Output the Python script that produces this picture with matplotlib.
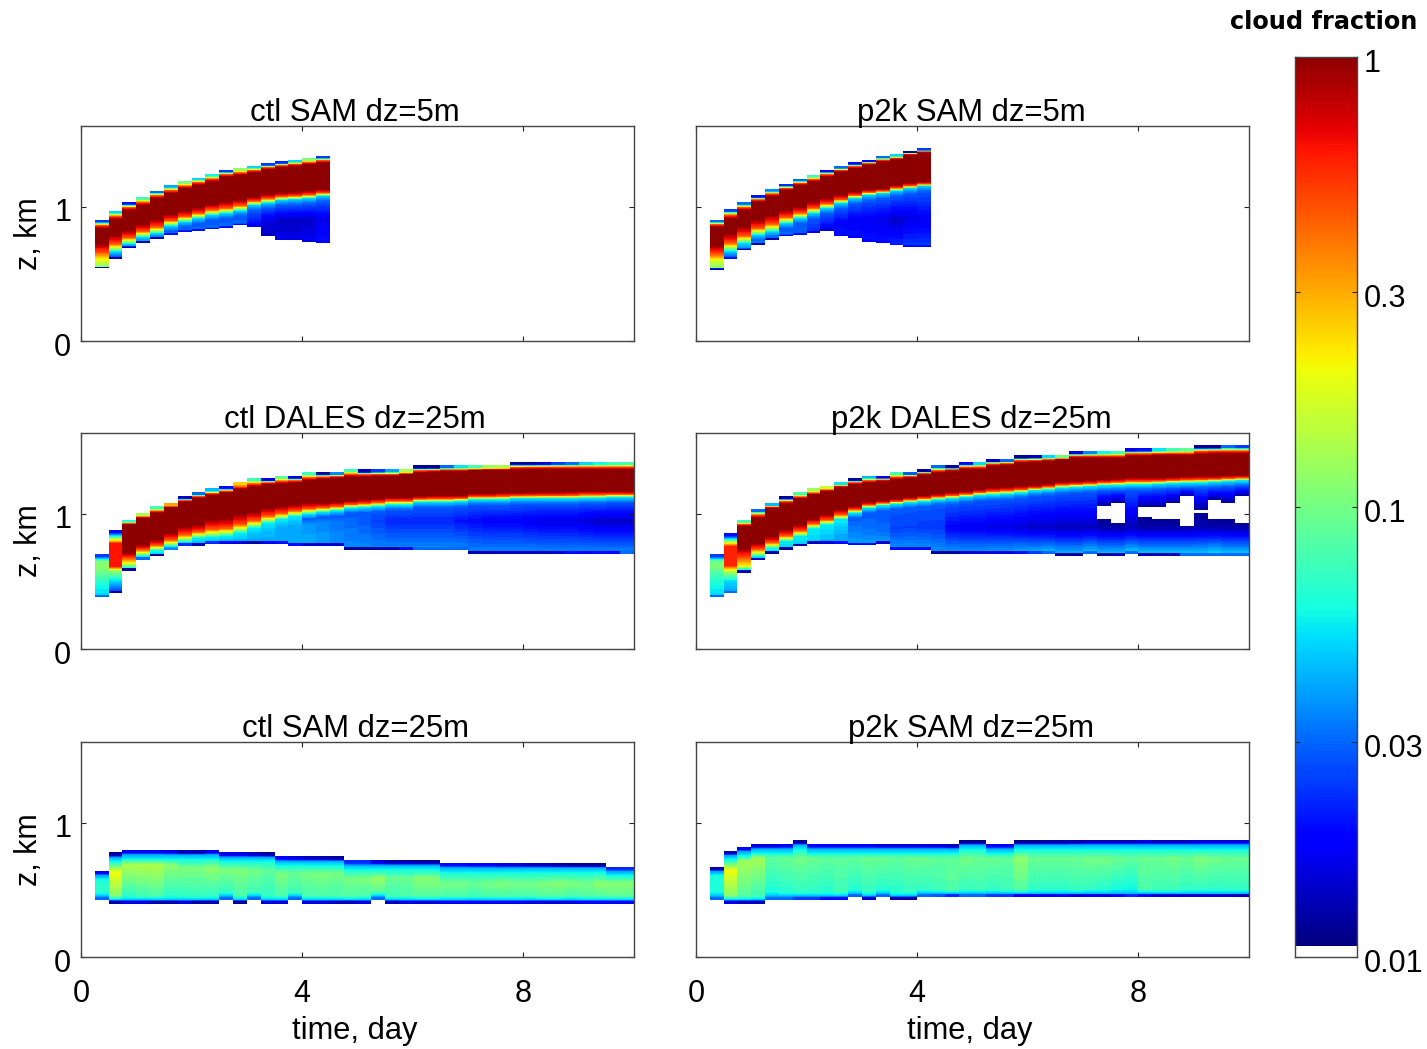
import numpy as np
import matplotlib
matplotlib.use('Agg')
import matplotlib.pyplot as plt
from matplotlib.transforms import ScaledTranslation

plt.rcParams['font.family'] = ['Liberation Sans', 'DejaVu Sans']

# time columns, day
time_edges = [0.25, 0.5, 0.75, 1.0, 1.25, 1.5, 1.75, 2.0, 2.25, 2.5, 2.75, 3.0, 3.25, 3.5,
              3.75, 4.0, 4.25, 4.5, 4.75, 5.0, 5.25, 5.5, 5.75, 6.0, 6.25, 6.5, 6.75, 7.0,
              7.25, 7.5, 7.75, 8.0, 8.25, 8.5, 8.75, 9.0, 9.25, 9.5, 9.75, 10.0]
cbar_ticks = [0.01, 0.03, 0.1, 0.3, 1]
cbar_labels = ['0.01', '0.03', '0.1', '0.3', '1']

# ctl SAM dz=5m, heights in km per column
ctl5_base = [.54, .61, .69, .73, .76, .79, .81, .82, .83, .84, .86, .85, .78, .75, .75, .74, .73]
ctl5_mid = [.56, .63, .705, .745, .775, .805, .825, .835, .845, .855, .875, .88, .90, .90, .90, .90, .90]
ctl5_edge = [.60, .664, .721, .771, .80, .855, .887, .912, .937, .949, .969, 1.011, 1.029, 1.048, 1.053, 1.061, 1.078]
ctl5_lo = [.726, .788, .825, .870, .905, .944, .969, .994, 1.019, 1.036, 1.053, 1.073, 1.093, 1.103, 1.108, 1.118, 1.128]
ctl5_hi = [.837, .905, .974, 1.011, 1.061, 1.098, 1.135, 1.160, 1.185, 1.222, 1.235, 1.252, 1.277, 1.292, 1.302, 1.314, 1.326]
ctl5_top = [.90, .967, 1.031, 1.068, 1.118, 1.158, 1.187, 1.215, 1.242, 1.272, 1.284, 1.302, 1.321, 1.336, 1.346, 1.359, 1.376]
ctl5_cf_base = [.015, .012, .012, .013, .013, .02, .02, .02, .02, .02, .02, .017, .013, .016, .016, .015, .018]
ctl5_cf_low = [.12, .022, .03, .03, .025, .025, .025, .025, .025, .025, .025, .018, .014, .016, .016, .017, .02]
ctl5_cf_mid = [.13, .03, .035, .035, .03, .03, .03, .03, .03, .03, .03, .02, .016, .014, .014, .014, .016]
ctl5_cf_edge = [.18, .05, .05, .05, .05, .05, .05, .05, .05, .05, .05, .05, .05, .05, .05, .05, .05]
ctl5_cf_core = [1, 1, 1, 1, 1, 1, 1, 1, 1, 1, 1, 1, 1, 1, 1, 1, 1]
ctl5_cf_top = [.025, .05, .02, .08, .03, .04, .1, .05, .06, .025, .12, .05, .025, .022, .05, .1, .025]

# p2k SAM dz=5m
p2k5_base = [.527, .607, .674, .718, .751, .778, .788, .805, .818, .778, .768, .738, .728, .711, .701, .701]
p2k5_mid = [.55, .63, .69, .735, .77, .795, .805, .82, .84, .88, .90, .90, .90, .90, .92, .90]
p2k5_edge = [.59, .668, .726, .788, .813, .875, .912, .949, .986, 1.024, 1.061, 1.086, 1.098, 1.118, 1.135, 1.153]
p2k5_lo = [.713, .800, .850, .900, .937, .974, .999, 1.036, 1.061, 1.086, 1.110, 1.128, 1.135, 1.160, 1.178, 1.185]
p2k5_hi = [.850, .912, .974, 1.036, 1.078, 1.123, 1.160, 1.185, 1.222, 1.259, 1.284, 1.309, 1.334, 1.351, 1.383, 1.401]
p2k5_top = [.90, .979, 1.031, 1.083, 1.128, 1.168, 1.205, 1.235, 1.272, 1.299, 1.329, 1.349, 1.376, 1.388, 1.416, 1.433]
p2k5_cf_base = [.012, .02, .012, .013, .013, .018, .02, .016, .014, .016, .017, .018, .018, .02, .02, .02]
p2k5_cf_low = [.1, .02, .025, .028, .025, .025, .025, .02, .018, .02, .02, .02, .02, .022, .024, .024]
p2k5_cf_mid = [.12, .03, .035, .035, .03, .03, .028, .022, .018, .018, .017, .017, .016, .014, .016, .017]
p2k5_cf_edge = [.16, .05, .05, .05, .05, .05, .05, .05, .05, .05, .05, .05, .05, .05, .05, .05]
p2k5_cf_core = [1, 1, 1, 1, 1, 1, 1, 1, 1, 1, 1, 1, 1, 1, 1, 1]
p2k5_cf_top = [.03, .025, .03, .02, .035, .022, .03, .07, .02, .03, .02, .02, .03, .05, .014, .025]

# ctl DALES dz=25m
ctl_dales_base = [.382, .412, .580, .662, .686, .733, .765, .765, .780, .780, .780, .780, .780, .780, .765, .765, .765, .765, .736, .736,
                  .736, .736, .736, .736, .736, .736, .736, .706, .706, .706, .706, .706, .706, .706, .706, .706, .706, .706, .706]
ctl_dales_mid = [.47, .50, .615, .69, .715, .755, .787, .80, .81, .815, .83, .85, .87, .89, .91, .92, .93, .94, .95, .95,
                 .95, .95, .95, .95, .95, .95, .95, .95, .95, .95, .95, .95, .95, .95, .95, .95, .95, .95, .95]
ctl_dales_edge = [.56, .58, .637, .70, .73, .761, .793, .822, .827, .835, .860, .897, .934, .959, .983, 1.001, 1.015, 1.025, 1.045, 1.050,
                  1.058, 1.070, 1.070, 1.090, 1.090, 1.090, 1.095, 1.107, 1.107, 1.107, 1.115, 1.115, 1.115, 1.115, 1.115, 1.119, 1.119, 1.124, 1.124]
ctl_dales_lo = [.60, .61, .711, .773, .810, .860, .909, .921, .959, .966, .996, 1.015, 1.045, 1.058, 1.070, 1.082, 1.082, 1.090, 1.100, 1.107,
                1.115, 1.124, 1.124, 1.132, 1.137, 1.137, 1.137, 1.152, 1.152, 1.157, 1.157, 1.159, 1.162, 1.162, 1.164, 1.169, 1.169, 1.169, 1.169]
ctl_dales_hi = [.65, .78, .921, .971, 1.008, 1.050, 1.090, 1.119, 1.139, 1.157, 1.186, 1.201, 1.218, 1.223, 1.231, 1.248, 1.260, 1.268, 1.275, 1.275,
                1.280, 1.280, 1.293, 1.305, 1.310, 1.317, 1.317, 1.322, 1.327, 1.327, 1.327, 1.330, 1.330, 1.330, 1.330, 1.330, 1.330, 1.330, 1.330]
ctl_dales_top = [.704, .882, .959, 1.008, 1.058, 1.082, 1.132, 1.162, 1.189, 1.206, 1.238, 1.268, 1.268, 1.285, 1.285, 1.312, 1.312, 1.312, 1.335, 1.330,
                 1.330, 1.330, 1.330, 1.360, 1.360, 1.360, 1.360, 1.360, 1.360, 1.360, 1.387, 1.387, 1.387, 1.387, 1.387, 1.387, 1.387, 1.387, 1.387]
ctl_dales_cf_base = [.03, .012, .012, .03, .012, .035, .022, .014, .022, .017, .016, .013, .017, .02, .02, .015, .015, .015, .012, .012,
                     .013, .013, .02, .03, .03, .03, .03, .013, .013, .014, .014, .014, .014, .015, .02, .018, .02, .018, .03]
ctl_dales_cf_low = [.05, .025, .06, .05, .05, .05, .045, .04, .045, .04, .04, .04, .04, .04, .04, .04, .038, .036, .035, .035,
                    .034, .034, .034, .034, .034, .034, .034, .034, .034, .034, .034, .034, .034, .034, .034, .034, .034, .034, .034]
ctl_dales_cf_mid = [.06, .05, .1, .06, .055, .05, .05, .05, .05, .05, .05, .045, .045, .04, .04, .038, .035, .032, .03, .028,
                    .025, .022, .022, .022, .022, .022, .02, .019, .018, .018, .018, .017, .016, .016, .016, .015, .014, .014, .014]
ctl_dales_cf_edge = [.09, .12, .2, .1, .06, .055, .055, .055, .055, .055, .055, .055, .055, .055, .055, .055, .055, .055, .055, .055,
                     .055, .055, .055, .055, .055, .055, .055, .055, .055, .055, .055, .055, .055, .055, .055, .055, .055, .055, .055]
ctl_dales_cf_core = [.11, .65, 1, 1, 1, 1, 1, 1, 1, 1, 1, 1, 1, 1, 1, 1, 1, 1, 1, 1,
                     1, 1, 1, 1, 1, 1, 1, 1, 1, 1, 1, 1, 1, 1, 1, 1, 1, 1, 1]
ctl_dales_cf_top = [.025, .02, .065, .14, .075, .3, .014, .03, .045, .02, .25, .07, .016, .09, .016, .07, .012, .035, .08, .014,
                    .025, .04, .14, .012, .012, .03, .055, .08, .13, .14, .012, .012, .015, .025, .03, .05, .06, .07, .08]

# p2k DALES dz=25m
p2k_dales_base = [.382, .412, .563, .657, .704, .736, .760, .780, .780, .780, .768, .768, .780, .736, .736, .736, .706, .706, .706, .706,
                  .706, .706, .706, .706, .706, .691, .691, .706, .691, .691, .706, .691, .691, .691, .691, .691, .691, .691, .691]
p2k_dales_mid = [.47, .50, .595, .685, .725, .76, .785, .805, .815, .83, .85, .87, .88, .89, .90, .90, .90, .90, .90, .90,
                 .90, .90, .90, .90, .90, .90, .90, .90, .90, .90, .90, .90, .90, .90, .90, .90, .90, .90, .90]
p2k_dales_edge = [.56, .57, .612, .699, .748, .798, .835, .892, .921, .959, 1.008, 1.045, 1.063, 1.075, 1.087, 1.095, 1.107, 1.115, 1.127, 1.139,
                  1.144, 1.149, 1.159, 1.174, 1.181, 1.194, 1.199, 1.204, 1.211, 1.214, 1.218, 1.218, 1.223, 1.228, 1.231, 1.233, 1.238, 1.243, 1.248]
p2k_dales_lo = [.60, .62, .748, .785, .835, .884, .921, .966, .996, 1.033, 1.058, 1.090, 1.100, 1.112, 1.124, 1.137, 1.149, 1.162, 1.169, 1.181,
                1.194, 1.199, 1.206, 1.213, 1.223, 1.238, 1.243, 1.248, 1.256, 1.260, 1.268, 1.268, 1.268, 1.273, 1.278, 1.280, 1.280, 1.285, 1.288]
p2k_dales_hi = [.65, .76, .909, .971, 1.045, 1.075, 1.115, 1.144, 1.169, 1.199, 1.218, 1.231, 1.243, 1.256, 1.268, 1.288, 1.305, 1.317, 1.330, 1.330,
                1.355, 1.362, 1.379, 1.384, 1.392, 1.404, 1.416, 1.416, 1.416, 1.416, 1.429, 1.429, 1.436, 1.436, 1.436, 1.441, 1.446, 1.446, 1.446]
p2k_dales_top = [.704, .857, .959, 1.038, 1.082, 1.134, 1.162, 1.189, 1.209, 1.238, 1.268, 1.285, 1.285, 1.312, 1.312, 1.335, 1.362, 1.362, 1.387, 1.387,
                 1.409, 1.409, 1.436, 1.436, 1.436, 1.436, 1.466, 1.466, 1.466, 1.466, 1.486, 1.486, 1.486, 1.486, 1.486, 1.511, 1.511, 1.511, 1.511]
p2k_dales_cf_base = [.03, .03, .012, .014, .012, .012, .013, .014, .016, .02, .02, .02, .015, .02, .02, .02, .012, .012, .015, .015,
                     .016, .016, .02, .025, .03, .012, .012, .03, .012, .014, .03, .013, .014, .014, .03, .03, .03, .03, .03]
p2k_dales_cf_low = [.05, .04, .05, .05, .05, .05, .045, .04, .04, .04, .038, .038, .038, .036, .036, .036, .036, .036, .036, .036,
                    .038, .038, .04, .04, .042, .042, .042, .044, .044, .044, .046, .046, .046, .046, .046, .046, .05, .046, .046]
p2k_dales_cf_mid = [.06, .05, .08, .055, .055, .05, .05, .05, .045, .04, .035, .032, .03, .025, .025, .024, .024, .018, .017, .017,
                    .016, .016, .015, .014, .014, .0135, .0135, .0135, .0125, .0125, .013, .0125, .0125, .0125, .0125, .013, .0125, .0125, .0125]
p2k_dales_cf_edge = [.08, .13, .2, .1, .06, .055, .055, .055, .055, .055, .055, .055, .055, .055, .055, .055, .055, .055, .055, .055,
                     .055, .055, .055, .055, .055, .055, .055, .055, .055, .055, .055, .055, .055, .055, .055, .055, .055, .055, .055]
p2k_dales_cf_core = [.1, .6, 1, 1, 1, 1, 1, 1, 1, 1, 1, 1, 1, 1, 1, 1, 1, 1, 1, 1,
                     1, 1, 1, 1, 1, 1, 1, 1, 1, 1, 1, 1, 1, 1, 1, 1, 1, 1, 1]
p2k_dales_cf_top = [.025, .02, .07, .03, .045, .012, .08, .13, .16, .055, .012, .045, .018, .08, .028, .012, .03, .012, .018, .05,
                    .014, .03, .012, .014, .05, .1, .016, .035, .06, .08, .016, .02, .055, .08, .09, .012, .012, .03, .025]
# gaps below 0.01 in the p2k DALES run
p2k_hole_col = [28, 29, 31, 32, 33, 34, 35, 36, 37, 38]
p2k_hole_lo = [.963, .934, .981, .963, .963, .914, 1.008, .963, .963, .934]
p2k_hole_hi = [1.058, 1.082, 1.050, 1.050, 1.082, 1.132, 1.033, 1.107, 1.082, 1.132]

# ctl SAM dz=25m
ctl25_base = [.423, .394, .394, .394, .394, .394, .394, .394, .394, .423, .394, .423, .394, .394, .423, .394, .394, .394, .394, .394,
              .423, .394, .394, .394, .394, .394, .394, .394, .394, .394, .394, .394, .394, .394, .394, .394, .394, .394, .394]
ctl25_top = [.642, .778, .796, .796, .796, .796, .796, .796, .796, .778, .778, .778, .778, .749, .749, .749, .749, .749, .719, .719,
             .719, .719, .719, .719, .719, .699, .699, .699, .699, .699, .699, .699, .699, .699, .699, .699, .699, .672, .672]
ctl25_peak = [.53, .63, .684, .684, .684, .684, .66, .66, .66, .647, .647, .647, .647, .622, .622, .622, .622, .622, .585, .585,
              .585, .585, .585, .585, .585, .548, .548, .548, .548, .548, .548, .548, .548, .548, .548, .548, .548, .548, .548]
ctl25_cf_peak = [.07, .2, .14, .14, .14, .115, .105, .105, .115, .105, .105, .10, .09, .105, .095, .10, .105, .10, .10, .105,
                 .12, .095, .095, .11, .11, .10, .10, .095, .10, .105, .10, .10, .105, .11, .105, .10, .115, .11, .11]
ctl25_cf_low = [.065, .11, .068, .075, .08, .068, .07, .072, .07, .07, .08, .075, .07, .08, .075, .08, .08, .08, .085, .08,
                .085, .075, .08, .085, .085, .08, .08, .075, .08, .08, .08, .08, .085, .085, .08, .085, .085, .09, .09]
ctl25_cf_base = [.03, .013, .016, .016, .013, .013, .016, .013, .013, .03, .012, .03, .016, .016, .03, .016, .016, .014, .014, .016,
                 .03, .014, .016, .016, .016, .018, .018, .018, .018, .018, .018, .016, .016, .016, .016, .018, .018, .018, .018]
ctl25_cf_top = [.018, .012, .018, .018, .018, .016, .013, .013, .018, .016, .016, .014, .012, .018, .016, .014, .013, .012, .022, .022,
                .016, .013, .013, .012, .012, .02, .02, .018, .018, .016, .016, .014, .014, .013, .012, .012, .012, .022, .022]

# p2k SAM dz=25m
p2k25_base = [.423, .394, .394, .394, .423, .423, .423, .423, .423, .423, .443, .423, .443, .423, .423, .443, .443, .443, .443, .443,
              .443, .443, .443, .443, .443, .443, .443, .443, .443, .443, .443, .443, .443, .443, .443, .443, .443, .443, .443]
p2k25_top = [.672, .791, .820, .840, .840, .840, .870, .840, .840, .840, .840, .840, .840, .840, .840, .840, .840, .840, .870, .870,
             .840, .840, .870, .870, .870, .870, .870, .870, .870, .870, .870, .870, .870, .870, .870, .870, .870, .870, .870]
p2k25_peak = [.55, .647, .709, .734, .734, .734, .734, .734, .734, .734, .734, .734, .734, .734, .734, .734, .734, .734, .734, .734,
              .734, .734, .734, .734, .734, .734, .734, .734, .734, .734, .734, .734, .734, .734, .734, .734, .734, .734, .734]
p2k25_cf_peak = [.065, .2, .13, .13, .09, .095, .10, .095, .09, .09, .09, .095, .095, .09, .095, .095, .09, .09, .10, .095,
                 .095, .09, .115, .095, .095, .095, .095, .10, .10, .095, .09, .095, .095, .10, .095, .105, .10, .095, .095]
p2k25_cf_low = [.06, .11, .085, .075, .062, .065, .07, .068, .066, .075, .066, .07, .066, .066, .07, .07, .075, .085, .072, .075,
                .07, .075, .085, .07, .068, .068, .072, .07, .066, .06, .058, .08, .075, .075, .07, .07, .068, .07, .07]
p2k25_cf_base = [.03, .016, .014, .014, .03, .03, .025, .025, .02, .02, .03, .015, .03, .013, .013, .03, .028, .022, .03, .03,
                 .025, .025, .018, .018, .018, .02, .016, .018, .016, .02, .022, .02, .016, .016, .015, .015, .015, .015, .014]
p2k25_cf_top = [.013, .014, .018, .016, .016, .018, .012, .018, .018, .018, .018, .018, .016, .016, .016, .016, .016, .014, .011, .011,
                .018, .018, .011, .011, .012, .012, .013, .014, .014, .014, .014, .016, .014, .014, .014, .016, .016, .016, .016]

W, H = 1427, 1049
CF_WHITE = 0.0106
CF_KNEE = 0.45
LOG_MIN, LOG_MAX = np.log10(CF_WHITE), 0.02
color_levels = np.linspace(LOG_MIN, 0.005, 64)


def pixel_axes(fig, x0, y0, x1, y1):
    return fig.add_axes([x0 / W, 1 - y1 / H, (x1 - x0) / W, (y1 - y0) / H])


def draw_column(ax, i, z, cf):
    # contourf does the colour steps inside one time column
    t = [time_edges[i], time_edges[i + 1]]
    v = np.log10(np.array(cf, dtype=float))
    ax.contourf(t, z, np.column_stack([v, v]), levels=color_levels, cmap='jet', vmin=LOG_MIN, vmax=LOG_MAX)


def draw_capped(ax, cap, base, mid, edge, lo, hi, top, cf_base, cf_low, cf_mid, cf_edge, cf_core, cf_top,
                hole_col=(), hole_lo=(), hole_hi=()):
    for i in range(len(base)):
        z = [base[i], base[i] + cap - 0.002, base[i] + cap, mid[i]]
        cf = [cf_base[i], cf_base[i], cf_low[i], cf_mid[i]]
        if i in hole_col:
            j = list(hole_col).index(i)
            z += [hole_lo[j], hole_lo[j] + 0.001, hole_hi[j] - 0.001, hole_hi[j]]
            cf += [0.0115, 0.009, 0.009, 0.0115]
        # stays blue until just under the sharp rise
        if cf[-1] < 0.04 and edge[i] - 0.04 > z[-1]:
            z.append(edge[i] - 0.04)
            cf.append(0.028)
        z.append(edge[i])
        cf.append(cf_edge[i])
        # the red flanks of the core are wider than the yellow and green part
        if cf_core[i] == 1:
            z.append(edge[i] + 0.45 * (lo[i] - edge[i]))
            cf.append(CF_KNEE)
        z += [lo[i], hi[i]]
        cf += [cf_core[i], cf_core[i]]
        if cf_core[i] == 1:
            z.append(hi[i] + 0.5 * (top[i] - cap - hi[i]))
            cf.append(CF_KNEE)
        z += [top[i] - cap, top[i]]
        cf += [cf_top[i], cf_top[i]]
        draw_column(ax, i, z, cf)


def draw_layer(ax, base, top, peak, cf_peak, cf_low, cf_base, cf_top):
    for i in range(len(base)):
        z = [base[i], base[i] + 0.022, base[i] + 0.03, base[i] + 0.06, peak[i],
             top[i] - 0.07, top[i] - 0.035, top[i] - 0.02, top[i]]
        cf = [cf_base[i], cf_base[i], 0.045, cf_low[i], cf_peak[i], 0.06, 0.04, cf_top[i], cf_top[i]]
        draw_column(ax, i, z, cf)


def shift_ylabels(ax, fig):
    offset = ScaledTranslation(0, -3 / 100, fig.dpi_scale_trans)
    for lab in ax.get_yticklabels():
        lab.set_transform(lab.get_transform() + offset)


def style_axes(ax, bottom):
    ax.set_xlim(0, 10)
    ax.set_ylim(0, 1.6)
    ax.set_xticks([0, 4, 8])
    ax.set_yticks([0, 1])
    ax.tick_params(direction='in', top=True, right=True, length=3.5, width=0.8, color='#222222',
                   labelsize=22, labelbottom=bottom)
    ax.tick_params(axis='x', pad=16)
    ax.tick_params(axis='y', pad=7)
    for s in ax.spines.values():
        s.set_linewidth(1.0)
        s.set_color('#444444')
    ax.set_ylabel('z, km', fontsize=22, labelpad=7)
    if bottom:
        ax.set_xlabel('time, day', fontsize=22.2, labelpad=5, x=0.4955)


fig = plt.figure(figsize=(W / 100, H / 100), dpi=100)

ax1 = pixel_axes(fig, 81, 126, 634, 341)
ax2 = pixel_axes(fig, 696, 126, 1249, 341)
ax3 = pixel_axes(fig, 81, 433, 634, 649)
ax4 = pixel_axes(fig, 696, 433, 1249, 649)
ax5 = pixel_axes(fig, 81, 742, 634, 957)
ax6 = pixel_axes(fig, 696, 742, 1249, 957)

draw_capped(ax1, 0.014, ctl5_base, ctl5_mid, ctl5_edge, ctl5_lo, ctl5_hi, ctl5_top,
            ctl5_cf_base, ctl5_cf_low, ctl5_cf_mid, ctl5_cf_edge, ctl5_cf_core, ctl5_cf_top)
draw_capped(ax2, 0.014, p2k5_base, p2k5_mid, p2k5_edge, p2k5_lo, p2k5_hi, p2k5_top,
            p2k5_cf_base, p2k5_cf_low, p2k5_cf_mid, p2k5_cf_edge, p2k5_cf_core, p2k5_cf_top)
draw_capped(ax3, 0.02, ctl_dales_base, ctl_dales_mid, ctl_dales_edge, ctl_dales_lo, ctl_dales_hi, ctl_dales_top,
            ctl_dales_cf_base, ctl_dales_cf_low, ctl_dales_cf_mid, ctl_dales_cf_edge, ctl_dales_cf_core, ctl_dales_cf_top)
draw_capped(ax4, 0.02, p2k_dales_base, p2k_dales_mid, p2k_dales_edge, p2k_dales_lo, p2k_dales_hi, p2k_dales_top,
            p2k_dales_cf_base, p2k_dales_cf_low, p2k_dales_cf_mid, p2k_dales_cf_edge, p2k_dales_cf_core, p2k_dales_cf_top,
            p2k_hole_col, p2k_hole_lo, p2k_hole_hi)
draw_layer(ax5, ctl25_base, ctl25_top, ctl25_peak, ctl25_cf_peak, ctl25_cf_low, ctl25_cf_base, ctl25_cf_top)
draw_layer(ax6, p2k25_base, p2k25_top, p2k25_peak, p2k25_cf_peak, p2k25_cf_low, p2k25_cf_base, p2k25_cf_top)

for ax in [ax1, ax2, ax3, ax4]:
    style_axes(ax, False)
for ax in [ax5, ax6]:
    style_axes(ax, True)
for ax in [ax2, ax4, ax6]:
    ax.set_ylabel('')
    ax.set_yticklabels([])
for ax in [ax1, ax3, ax5]:
    shift_ylabels(ax, fig)

fig.text(355 / W, 1 - 121 / H, 'ctl SAM dz=5m', fontsize=22.4, ha='center', va='baseline')
fig.text(971 / W, 1 - 121 / H, 'p2k SAM dz=5m', fontsize=22.4, ha='center', va='baseline')
fig.text(355 / W, 1 - 428 / H, 'ctl DALES dz=25m', fontsize=22.4, ha='center', va='baseline')
fig.text(971 / W, 1 - 428 / H, 'p2k DALES dz=25m', fontsize=22.4, ha='center', va='baseline')
fig.text(355 / W, 1 - 737 / H, 'ctl SAM dz=25m', fontsize=22.4, ha='center', va='baseline')
fig.text(971 / W, 1 - 737 / H, 'p2k SAM dz=25m', fontsize=22.4, ha='center', va='baseline')

# colorbar
cax = pixel_axes(fig, 1295, 57, 1357, 957)
cb_z = np.geomspace(CF_WHITE, 1, 257)
cb_v = np.log10(np.sqrt(cb_z[:-1] * cb_z[1:])).reshape(-1, 1)
cax.pcolormesh([0, 1], cb_z, cb_v, cmap='jet', vmin=LOG_MIN, vmax=LOG_MAX)
cax.set_yscale('log')
cax.set_ylim(0.01, 1)
cax.set_xticks([])
cax.yaxis.tick_right()
cax.set_yticks(cbar_ticks)
cax.set_yticklabels(cbar_labels)
cax.minorticks_off()
cax.tick_params(axis='y', direction='in', left=True, right=True, length=3.5, width=0.8, color='#222222',
                labelsize=22, pad=5)
for s in cax.spines.values():
    s.set_linewidth(1.0)
    s.set_color('#444444')
shift_ylabels(cax, fig)
fig.text(1417 / W, 1 - 22 / H, 'cloud fraction', fontsize=17.3, fontweight='bold', family='DejaVu Sans',
         ha='right', va='center')

fig.savefig('out.png', dpi=100)
